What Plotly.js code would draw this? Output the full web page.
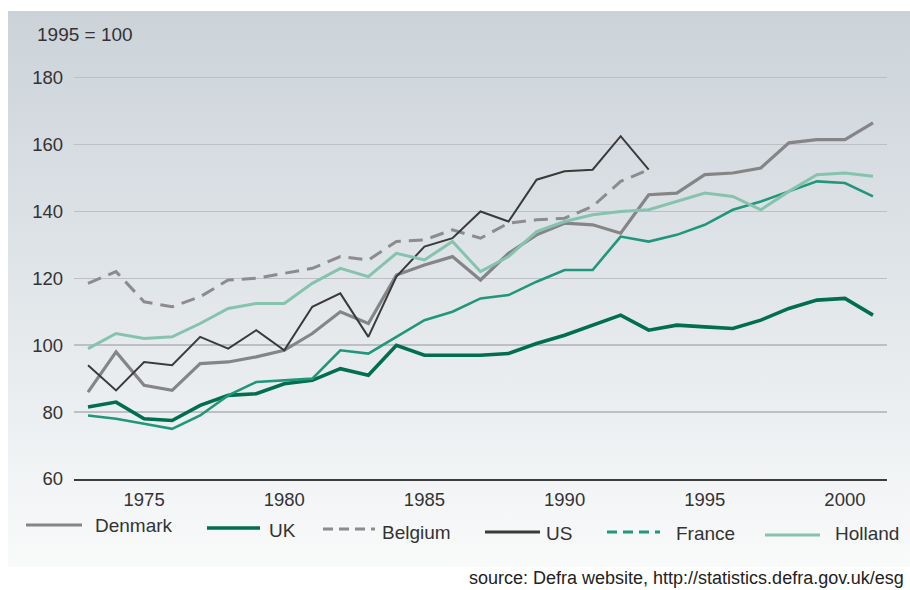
<!DOCTYPE html>
<html>
<head>
<meta charset="utf-8">
<script src="https://cdn.plot.ly/plotly-3.0.1.min.js"></script>
<style>
  html, body { margin: 0; padding: 0; background: #ffffff; }
  #wrap { position: relative; width: 910px; height: 590px; overflow: hidden; }
  #bg { position: absolute; left: 8px; top: 11px; width: 902px; height: 556px;
        background: linear-gradient(to bottom, #cbd3d9 0%, #dde2e6 40%, #edf0f2 75%, #f9fafa 100%); }
  #chart { position: absolute; left: 0; top: 0; width: 910px; height: 590px; }
</style>
</head>
<body>
<div id="wrap"><div id="bg"></div><div id="chart"></div></div>
<script>
// ---- data (index, 1995 = 100) ----
var yearsAll = [1973,1974,1975,1976,1977,1978,1979,1980,1981,1982,1983,1984,1985,1986,1987,1988,1989,1990,1991,1992,1993,1994,1995,1996,1997,1998,1999,2000,2001];
var yearsShort = [1973,1974,1975,1976,1977,1978,1979,1980,1981,1982,1983,1984,1985,1986,1987,1988,1989,1990,1991,1992,1993];

var denmark = [86,98,88,86.5,94.5,95,96.5,98.5,103.5,110,106.5,121,124,126.5,119.5,127.5,133,136.5,136,133.5,145,145.5,151,151.5,153,160.5,161.5,161.5,166.5];
var uk      = [81.5,83,78,77.5,82,85,85.5,88.5,89.5,93,91,100,97,97,97,97.5,100.5,103,106,109,104.5,106,105.5,105,107.5,111,113.5,114,109];
var belgium = [118.5,122,113,111.5,114.5,119.5,120,121.5,123,126.5,125.5,131,131.5,134.5,132,136.5,137.5,138,141.5,149,152.5];
var us      = [94,86.5,95,94,102.5,99,104.5,98.5,111.5,115.5,102.5,120.5,129.5,132,140,137,149.5,152,152.5,162.5,152.5];
var france  = [79,78,76.5,75,79,85,89,89.5,90,98.5,97.5,102.5,107.5,110,114,115,119,122.5,122.5,132.5,131,133,136,140.5,143,146,149,148.5,144.5];
var holland = [99,103.5,102,102.5,106.5,111,112.5,112.5,118.5,123,120.5,127.5,125.5,131,122,126.5,134,137,139,140,140.5,143,145.5,144.5,140.5,146,151,151.5,150.5];

var seriesNames = ["Denmark","UK","Belgium","US","France","Holland"];
var tickYears = [1975,1980,1985,1990,1995,2000];
var yTicks = [60,80,100,120,140,160,180];

// ---- styles ----
var styles = [
  {color:"#858587", width:3.2, dash:"solid"},
  {color:"#006e4f", width:3.6, dash:"solid"},
  {color:"#8c8c8e", width:3,   dash:"14px,8px"},
  {color:"#3a3a3a", width:2,   dash:"solid"},
  {color:"#20977a", width:2.6, dash:"solid"},
  {color:"#86c3ad", width:3,   dash:"solid"}
];
var legendStyles = [
  {color:"#858587", width:3.2, dash:"solid"},
  {color:"#006e4f", width:3.6, dash:"solid"},
  {color:"#8c8c8e", width:3,   dash:"10px,6px"},
  {color:"#3a3a3a", width:2.8, dash:"solid"},
  {color:"#20977a", width:3,   dash:"10px,6px"},
  {color:"#86c3ad", width:3,   dash:"solid"}
];

var xs = [yearsAll, yearsAll, yearsShort, yearsShort, yearsAll, yearsAll];
var ys = [denmark, uk, belgium, us, france, holland];

var traces = seriesNames.map(function(n, i){
  return {x: xs[i], y: ys[i], name: n, type: "scatter", mode: "lines",
          line: {color: styles[i].color, width: styles[i].width, dash: styles[i].dash},
          hoverinfo: "x+y+name", showlegend: false};
});

// plot area geometry in pixels (for placing the hand-built legend)
var M = {l:74, r:23, t:71, b:111};
var W = 910, H = 590;
var pw = W - M.l - M.r, ph = H - M.t - M.b;
function px(x){ return (x - M.l) / pw; }
function py(y){ return (H - M.b - y) / ph; }

var legendPos = [
  {x0:26,  x1:82,  ly:525, tx:93,  ty:525},
  {x0:207, x1:260, ly:528, tx:267, ty:530},
  {x0:323, x1:375, ly:529, tx:380, ty:532},
  {x0:485, x1:540, ly:532, tx:544, ty:533},
  {x0:607, x1:660, ly:532, tx:674, ty:533},
  {x0:765, x1:820, ly:535, tx:833, ty:533}
];

var shapes = [], annotations = [];
seriesNames.forEach(function(n, i){
  var p = legendPos[i];
  shapes.push({type:"line", xref:"paper", yref:"paper", x0:px(p.x0), x1:px(p.x1), y0:py(p.ly), y1:py(p.ly),
               line:{color:legendStyles[i].color, width:legendStyles[i].width, dash:legendStyles[i].dash}});
  annotations.push({xref:"paper", yref:"paper", x:px(p.tx), y:py(p.ty), xanchor:"left", yanchor:"middle",
                    text:n, showarrow:false, font:{size:19, color:"#333333"}});
});
annotations.push({xref:"paper", yref:"paper", x:px(35), y:py(34), xanchor:"left", yanchor:"middle",
                  text:"1995 = 100", showarrow:false, font:{size:19, color:"#333333"}});
annotations.push({xref:"paper", yref:"paper", x:px(906), y:py(578), xanchor:"right", yanchor:"middle",
                  text:"source: Defra website, http://statistics.defra.gov.uk/esg", showarrow:false,
                  font:{size:18, color:"#222222"}});

var layout = {
  width: W, height: H, autosize: false,
  margin: M,
  paper_bgcolor: "rgba(0,0,0,0)",
  plot_bgcolor: "rgba(0,0,0,0)",
  font: {family: "'Liberation Sans', Arial, sans-serif", size: 18.5, color: "#333333"},
  xaxis: {
    range: [1972.5, 2001.5], tickmode: "array", tickvals: tickYears, ticktext: tickYears.map(String),
    showgrid: false, zeroline: false, showline: true, linecolor: "#3c3c3c", linewidth: 2,
    ticks: "", ticklabelstandoff: 3, tickfont: {size: 18.5, color: "#333333"}, fixedrange: true
  },
  yaxis: {
    range: [60, 182], tickmode: "array", tickvals: yTicks, ticktext: yTicks.map(String),
    showgrid: true, gridcolor: "#bcc0c4", gridwidth: 1.5, zeroline: false, showline: false,
    ticks: "", ticklabelstandoff: 10, tickfont: {size: 18.5, color: "#333333"}, fixedrange: true
  },
  showlegend: false,
  shapes: shapes,
  annotations: annotations
};

Plotly.newPlot("chart", traces, layout, {displayModeBar: false, staticPlot: true});
</script>
</body>
</html>
